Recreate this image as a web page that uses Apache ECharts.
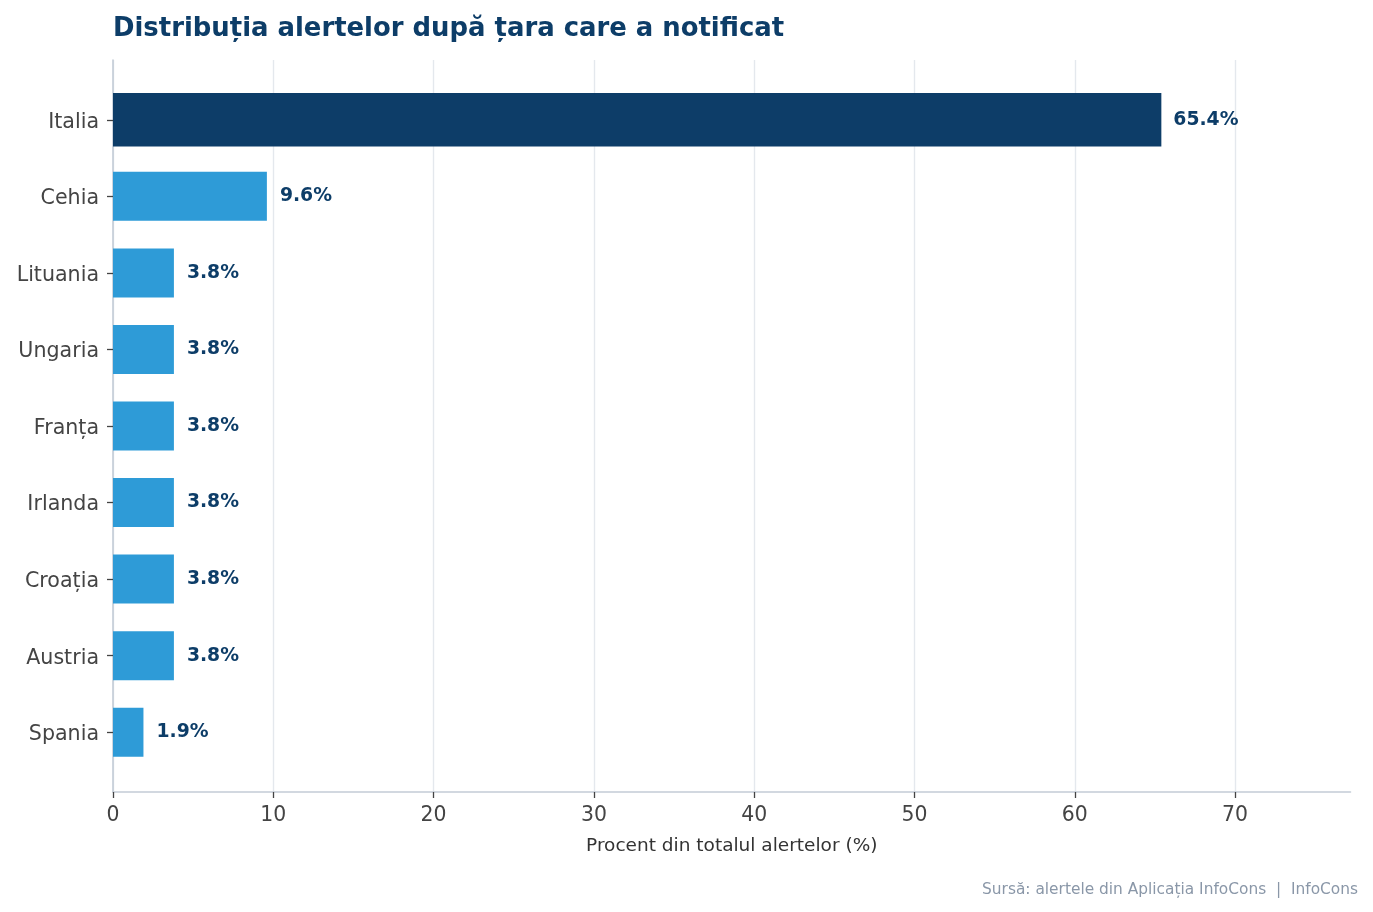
<!DOCTYPE html>
<html>
<head>
<meta charset="utf-8">
<title>Distribuția alertelor</title>
<script src="https://cdn.jsdelivr.net/npm/echarts@6/dist/echarts.min.js"></script>
<style>
html,body{margin:0;padding:0;background:#fff;}
#main{width:1373px;height:912px;}
</style>
</head>
<body>
<div id="main"></div>
<script>
// date
var tari=["Italia","Cehia","Lituania","Ungaria","Franța","Irlanda","Croația","Austria","Spania"];
var procente=[65.4,9.6,3.8,3.8,3.8,3.8,3.8,3.8,1.9];
var xTicks=[0,10,20,30,40,50,60,70];
var xMax=77.2;
var evidentiat=0; // Italia

var font='DejaVu Sans';
// (nu "top": e rezervat in window)
var gLeft=113,gRight=22.5,gTop=60,gBottom=120;
var plotW=1373-gLeft-gRight;
// grila cu gradatii se opreste la ultima valoare rotunda
var gRight2=1373-gLeft-plotW*xTicks[xTicks.length-1]/xMax;

var app=echarts.init(document.getElementById('main'));

var option={
    backgroundColor:'#fff',
    animation:false,
    title:{
        text:'Distribuția alertelor după țara care a notificat',
        left:gLeft,
        top:16,
        padding:0,
        textStyle:{color:'#0d3d68',fontSize:25.9,fontWeight:'bold',fontFamily:font}
    },
    graphic:[{
        type:'text',
        right:15,
        top:882,
        style:{
            text:'Sursă: alertele din Aplicația InfoCons  |  InfoCons',
            fill:'#8a97a8',
            font:'15.4px "DejaVu Sans"'
        }
    }],
    grid:[
        // bare
        {left:gLeft,right:gRight,top:gTop+21.5,bottom:gBottom+21.5},
        // cadru (axe)
        {left:gLeft,right:gRight,top:gTop,bottom:gBottom},
        // gradatii si linii de grila
        {left:gLeft,right:gRight2,top:gTop,bottom:gBottom}
    ],
    xAxis:[
        {gridIndex:0,type:'value',min:0,max:xMax,show:false},
        {
            gridIndex:1,type:'value',min:0,max:xMax,
            axisLine:{show:true,lineStyle:{color:'#c3ccd6',width:1.6}},
            axisTick:{show:false},
            axisLabel:{show:false},
            splitLine:{show:false},
            name:'Procent din totalul alertelor (%)',
            nameLocation:'middle',
            nameGap:45,
            nameTextStyle:{color:'#333',fontSize:18.5,fontFamily:font}
        },
        {
            gridIndex:2,type:'value',min:xTicks[0],max:xTicks[xTicks.length-1],
            interval:xTicks[1]-xTicks[0],
            axisLine:{show:false},
            axisTick:{show:true,length:6,lineStyle:{color:'#444',width:1.3}},
            axisLabel:{color:'#444',fontSize:20.4,fontFamily:font,margin:14},
            splitLine:{show:true,lineStyle:{color:'#e4e8ed',width:1.4}}
        }
    ],
    yAxis:[
        {
            gridIndex:0,type:'category',data:tari,inverse:true,
            axisLine:{show:false},
            axisTick:{show:true,alignWithLabel:true,length:6,lineStyle:{color:'#444',width:1.3}},
            axisLabel:{
                margin:14,
                formatter:function(v){return '{t|'+v+'}';},
                rich:{t:{color:'#444',fontSize:20.6,fontFamily:font,padding:[5,0,0,0]}}
            },
            splitLine:{show:false}
        },
        {
            gridIndex:1,type:'value',min:0,max:1,
            axisLine:{show:true,lineStyle:{color:'#c3ccd6',width:1.6}},
            axisTick:{show:false},axisLabel:{show:false},splitLine:{show:false}
        },
        {gridIndex:2,type:'value',min:0,max:1,show:false},
        // a doua axa de categorii, ca bara evidentiata sa fie centrata
        {gridIndex:0,type:'category',data:tari,inverse:true,show:false}
    ],
    series:[
        {
            type:'bar',
            xAxisIndex:0,yAxisIndex:0,
            barWidth:49,
            data:procente.map(function(v,i){return i===evidentiat?'-':v;}),
            itemStyle:{color:'#2e9bd7'},
            label:{
                show:true,position:'right',distance:13,
                color:'#0d3d68',fontSize:18.8,fontWeight:'bold',fontFamily:font,
                formatter:function(p){return p.value.toFixed(1)+'%';}
            }
        },
        {
            type:'bar',
            xAxisIndex:0,yAxisIndex:3,
            barWidth:53.5,
            data:procente.map(function(v,i){return i===evidentiat?v:'-';}),
            itemStyle:{color:'#0d3d68'},
            label:{
                show:true,position:'right',distance:12,
                color:'#0d3d68',fontSize:18.8,fontWeight:'bold',fontFamily:font,
                formatter:function(p){return p.value.toFixed(1)+'%';}
            }
        }
    ]
};
app.setOption(option);
</script>
</body>
</html>
